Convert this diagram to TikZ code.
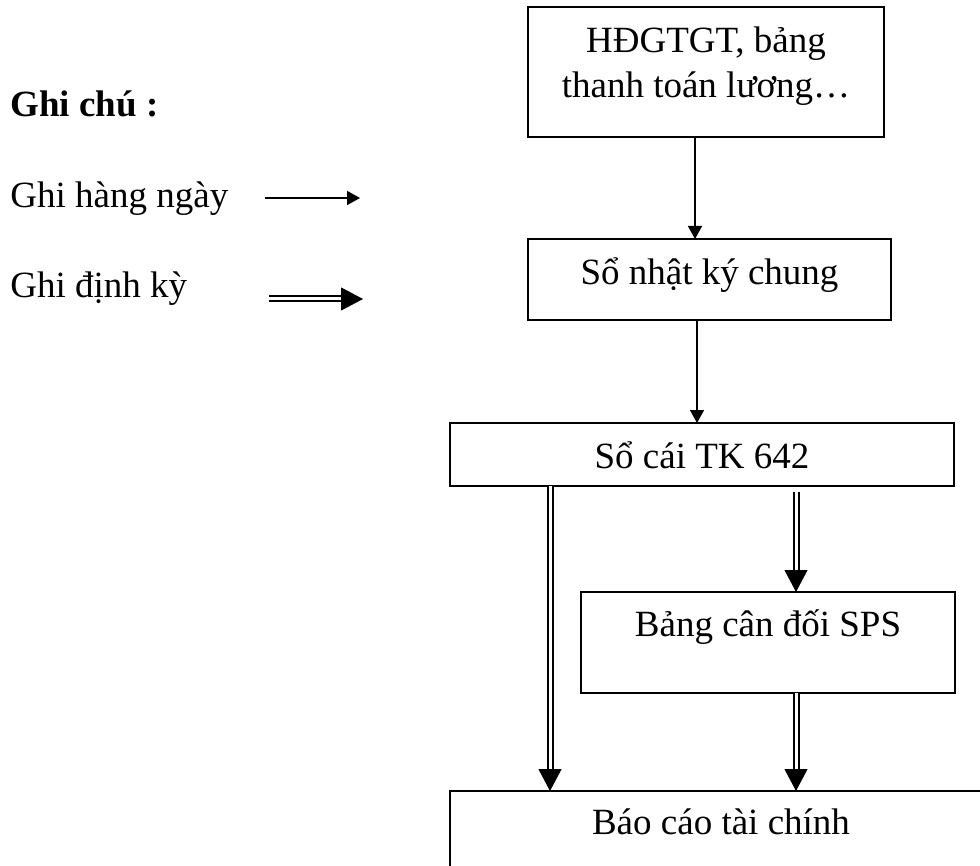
\documentclass[tikz,border=0pt]{standalone}
\usepackage{fontspec}
\setmainfont{Liberation Serif}
\usetikzlibrary{arrows.meta}
\newcommand\bodyfont{\fontsize{18.5}{22.5}\selectfont}
\begin{document}
\begin{tikzpicture}[x=0.5pt,y=-0.5pt,
  box/.style={draw, line width=0.8pt, rectangle, inner sep=0pt, outer sep=0pt,
    anchor=north west, font=\bodyfont, align=center},
  lbl/.style={anchor=base west, inner sep=0pt, font=\bodyfont},
  arr/.style={line width=0.75pt, -{Triangle[width=7pt,length=6.5pt]}},
  dshaft/.style={double, double distance=1.5pt, line width=1pt, shorten >=10pt},
  dhead/.style={line width=0.5pt, -{Triangle[width=11.5pt,length=11pt]}}]
\useasboundingbox (0,0) rectangle (980,866);

% legend
\node[lbl, font=\bodyfont\bfseries] (gc) at (10,117) {Ghi chú :};
\node[lbl] (ghn) at (10,208) {Ghi hàng ngày};
\node[lbl] (gdk) at (10,298) {Ghi định kỳ};
\coordinate (a1s) at (265,198);
\coordinate (a1e) at (360,198);
\coordinate (a2s) at (269,299);
\coordinate (a2e) at (363,299);
\draw[arr] (a1s) -- (a1e);
\draw[dshaft] (a2s) -- (a2e);
\draw[dhead] ([xshift=-11pt]a2e) -- (a2e);

% boxes
\node[box, minimum width=178pt, text height=45.5pt, text depth=19.5pt] (hd) at (528,7)
  {HĐGTGT, bảng\\thanh toán lương…};
\node[box, minimum width=181.5pt, text height=23pt, text depth=17.5pt] (nk) at (528,239)
  {Sổ nhật ký chung};
\node[box, minimum width=252pt, text height=22.5pt, text depth=9pt] (sc) at (450,423)
  {Sổ cái TK 642};
\node[box, minimum width=187pt, text height=22pt, text depth=28.5pt] (cd) at (581,592)
  {Bảng cân đối SPS};
\begin{scope}
\clip (0,0) rectangle (980,866);
\node[box, minimum width=271pt, text height=21.5pt, text depth=30pt] (bc) at (450,791)
  {Báo cáo tài chính};
\end{scope}

% single arrows
\draw[arr] ([xshift=83.5pt]hd.south west) -- ([xshift=83.5pt]nk.north west);
\draw[arr] ([xshift=84.5pt]nk.south west) -- ([xshift=123.5pt]sc.north west);

% double arrows
\draw[dshaft] ([xshift=50pt]sc.south west) -- ([xshift=50pt]bc.north west);
\draw[dhead] ([xshift=50pt,yshift=11pt]bc.north west) -- ([xshift=50pt]bc.north west);
\draw[dshaft] ([xshift=173pt,yshift=-3pt]sc.south west) -- ([xshift=107.5pt]cd.north west);
\draw[dhead] ([xshift=107.5pt,yshift=11pt]cd.north west) -- ([xshift=107.5pt]cd.north west);
\draw[dshaft] ([xshift=107.5pt]cd.south west) -- ([xshift=173pt]bc.north west);
\draw[dhead] ([xshift=173pt,yshift=11pt]bc.north west) -- ([xshift=173pt]bc.north west);
\end{tikzpicture}
\end{document}
